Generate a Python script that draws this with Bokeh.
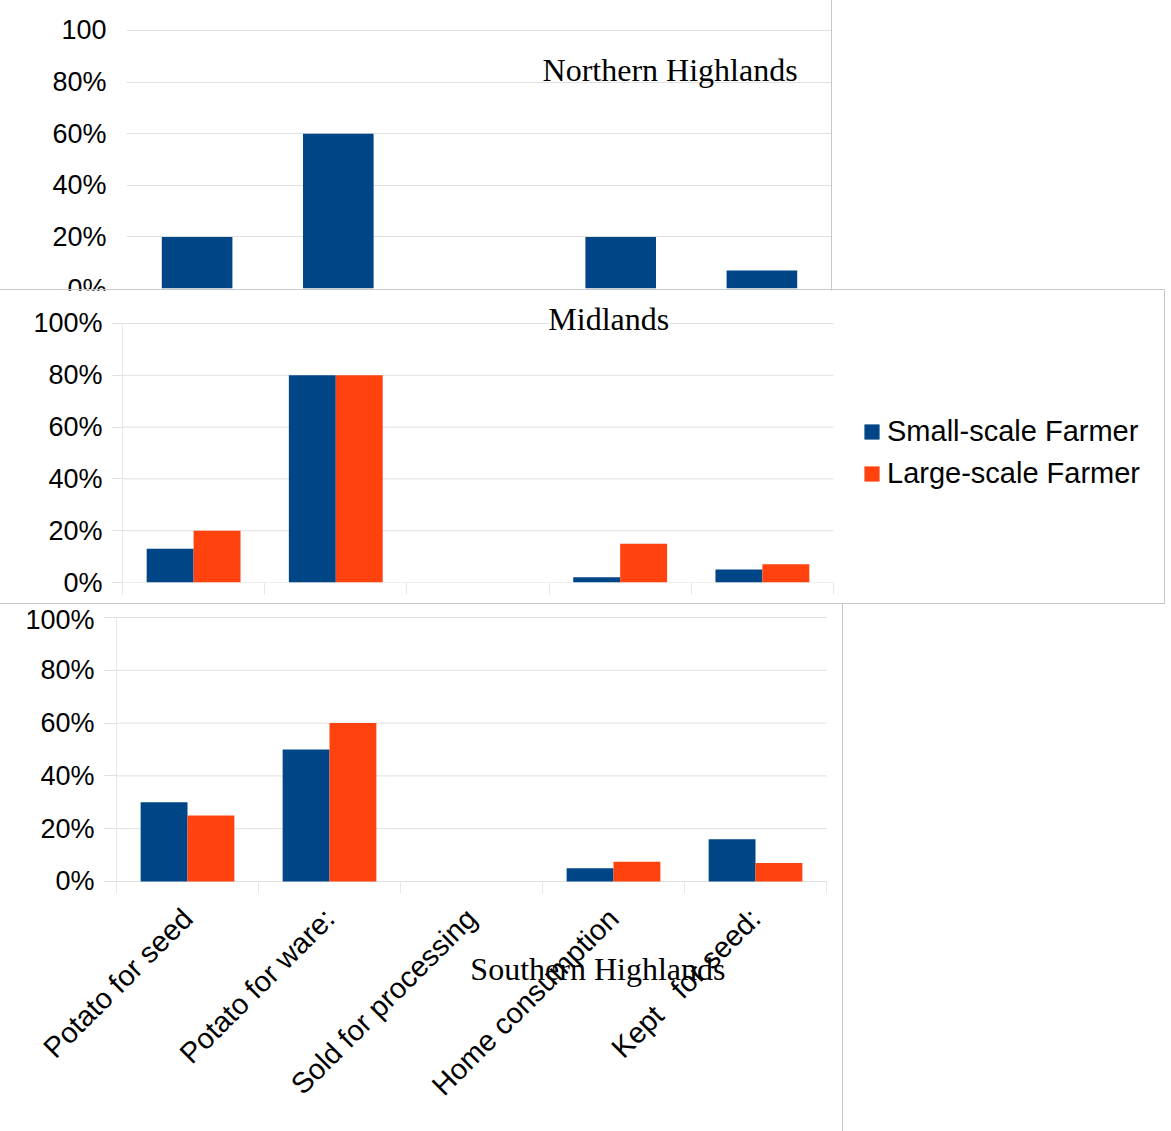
import math
from bokeh.plotting import figure
from bokeh.models import Range1d, FixedTicker, Label, Legend, LegendItem, ColumnDataSource
from bokeh.embed import file_html
from bokeh.resources import INLINE

categories = ["Potato for seed", "Potato for ware:", "Sold for processing",
              "Home consumption", "Kept \u00a0 for seed:"]
north_small = [20, 60, 0, 20, 7]
mid_small = [13, 80, 0, 2, 5]
mid_large = [20, 80, 0, 15, 7]
south_small = [30, 50, 0, 5, 16]
south_large = [25, 60, 0, 7.5, 7]
series_names = ["Small-scale Farmer", "Large-scale Farmer"]
y_ticks = [0, 20, 40, 60, 80, 100]

BLUE = "#004586"
ORANGE = "#ff420e"
GRID = "#e0e0e0"
AXIS = "#e8e8e8"
BORDER = "#c8c8c8"
SANS = "Liberation Sans"
SERIF = "Liberation Serif"

n_cat = len(categories)
centers = [i + 0.5 for i in range(n_cat)]
bounds_x = list(range(n_cat + 1))


def pct_labels(top_label="100%"):
    d = {t: f"{t}%" for t in y_ticks}
    d[100] = top_label
    return d


def base_fig(width, height, left, right, top, bottom, ytick_out, x_range, y_range, styles=None):
    p = figure(width=width, height=height, output_backend="svg", toolbar_location=None,
               x_range=x_range, y_range=y_range,
               min_border_left=left, min_border_right=right,
               min_border_top=top, min_border_bottom=bottom,
               background_fill_color="white", border_fill_color="white",
               outline_line_color=None, styles=styles or {})
    p.yaxis.ticker = FixedTicker(ticks=y_ticks)
    p.yaxis.axis_line_color = AXIS
    p.yaxis.bounds = (0, 100)
    p.yaxis.major_tick_out = ytick_out
    p.yaxis.major_tick_in = 0
    p.yaxis.major_tick_line_color = GRID
    p.yaxis.minor_tick_line_color = None
    p.yaxis.major_label_text_font = SANS
    p.yaxis.major_label_text_font_size = "27px"
    p.yaxis.major_label_text_color = "black"
    p.xgrid.grid_line_color = None
    return p


def grid_segments(p):
    # horizontal grid lines limited to the category span
    src = ColumnDataSource(dict(x0=[bounds_x[0]] * len(y_ticks), x1=[bounds_x[-1]] * len(y_ticks),
                                y=y_ticks))
    p.segment(x0="x0", x1="x1", y0="y", y1="y", source=src, line_color=GRID, line_width=1)
    p.ygrid.grid_line_color = None


def style_xaxis(p, labels):
    p.xaxis.ticker = FixedTicker(ticks=centers if labels else [], minor_ticks=bounds_x)
    p.xaxis.bounds = (bounds_x[0], bounds_x[-1])
    p.xaxis.axis_line_color = None
    p.xaxis.major_tick_out = 0
    p.xaxis.major_tick_in = 0
    p.xaxis.minor_tick_out = 12
    p.xaxis.minor_tick_in = 0
    p.xaxis.minor_tick_line_color = AXIS
    if labels:
        p.xaxis.major_label_overrides = {c: n for c, n in zip(centers, categories)}
        p.xaxis.major_label_orientation = math.pi / 4
        p.xaxis.major_label_text_font = SANS
        p.xaxis.major_label_text_font_size = "29px"
        p.xaxis.major_label_text_color = "black"
        p.xaxis.major_label_standoff = 20
    else:
        p.xaxis.major_label_standoff = 0


# ---------------- Northern Highlands ----------------
p1 = base_fig(832, 305, 126, 0, 0, 17, 0, Range1d(0, 5), Range1d(0, 111.58),
              styles={"border-right": f"1px solid {BORDER}"})
p1.yaxis.axis_line_color = None
p1.yaxis.major_label_overrides = pct_labels("100")
p1.yaxis.major_label_standoff = 20
p1.ygrid.ticker = FixedTicker(ticks=y_ticks)
p1.ygrid.grid_line_color = GRID
p1.xaxis.ticker = FixedTicker(ticks=[])
p1.xaxis.visible = False
src1 = ColumnDataSource(dict(x=centers, top=north_small))
p1.vbar(x="x", top="top", width=0.5, source=src1, fill_color=BLUE, line_color=None)
p1.add_layout(Label(x=3.85, y=84.5, text="Northern Highlands", text_font=SERIF,
                    text_font_size="32px", text_align="center", text_baseline="middle",
                    text_color="black"))

# ---------------- Midlands ----------------
# frame extended above 100% and to the right so the title and legend fit inside it
p2 = base_fig(1165, 315, 122, 0, 0, 23, 10, Range1d(0, 7.335), Range1d(0, 112.74),
              styles={"margin-top": "-16px", "position": "relative",
                      "border-top": f"1px solid {BORDER}", "border-right": f"1px solid {BORDER}",
                      "border-bottom": f"1px solid {BORDER}"})
p2.yaxis.major_label_overrides = pct_labels()
p2.yaxis.major_label_standoff = 10
grid_segments(p2)
style_xaxis(p2, labels=False)
src2 = ColumnDataSource(dict(xs=[c - 0.165 for c in centers], xl=[c + 0.165 for c in centers],
                             s=mid_small, l=mid_large))
r_s = p2.vbar(x="xs", top="s", width=0.33, source=src2, fill_color=BLUE, line_color=None)
r_l = p2.vbar(x="xl", top="l", width=0.33, source=src2, fill_color=ORANGE, line_color=None)
p2.add_layout(Label(x=3.42, y=101.8, text="Midlands", text_font=SERIF,
                    text_font_size="32px", text_align="center", text_baseline="middle",
                    text_color="black", background_fill_color="white"))
legend = Legend(items=[LegendItem(label=series_names[0], renderers=[r_s]),
                       LegendItem(label=series_names[1], renderers=[r_l])],
                location=(740, 92), border_line_color=None, background_fill_alpha=0,
                label_text_font=SANS, label_text_font_size="29px", label_text_color="black",
                glyph_width=19, glyph_height=19, label_standoff=6, spacing=9,
                padding=10, margin=0)
p2.add_layout(legend)

# ---------------- Southern Highlands ----------------
# frame spans the whole panel; both axes are pinned at the data origin
p3 = base_fig(843, 527, 0, 0, 0, 0, 12, Range1d(-0.8169, 5.1197), Range1d(-94.70, 104.92),
              styles={"border-right": f"1px solid {BORDER}"})
p3.yaxis.major_label_overrides = pct_labels()
p3.yaxis.major_label_standoff = 10
p3.yaxis.fixed_location = 0
grid_segments(p3)
style_xaxis(p3, labels=True)
p3.xaxis.fixed_location = 0
src3 = ColumnDataSource(dict(xs=[c - 0.165 for c in centers], xl=[c + 0.165 for c in centers],
                             s=south_small, l=south_large))
p3.vbar(x="xs", top="s", width=0.33, source=src3, fill_color=BLUE, line_color=None)
p3.vbar(x="xl", top="l", width=0.33, source=src3, fill_color=ORANGE, line_color=None)
p3.add_layout(Label(x=3.39, y=-33, text="Southern Highlands", text_font=SERIF,
                    text_font_size="32px", text_align="center", text_baseline="middle",
                    text_color="black"))

open("out.html", "w").write(file_html([p1, p2, p3], INLINE))
